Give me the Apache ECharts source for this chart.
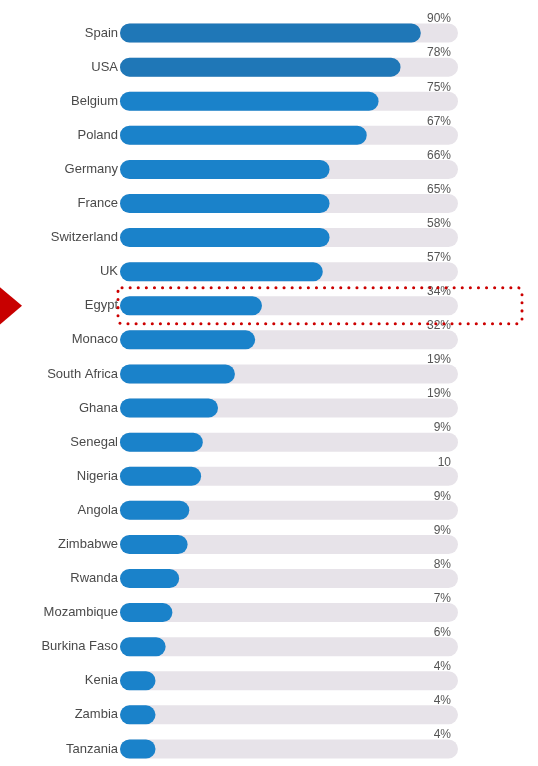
<!DOCTYPE html>
<html>
<head>
<meta charset="utf-8">
<script src="https://cdn.jsdelivr.net/npm/echarts@6/dist/echarts.min.js"></script>
<style>
  html, body { margin: 0; padding: 0; background: #fff; }
  #main { width: 538px; height: 766px; }
</style>
</head>
<body>
<div id="main"></div>
<script>
var countries = ['Spain', 'USA', 'Belgium', 'Poland', 'Germany', 'France', 'Switzerland', 'UK',
    'Egypt', 'Monaco', 'South Africa', 'Ghana', 'Senegal', 'Nigeria', 'Angola', 'Zimbabwe',
    'Rwanda', 'Mozambique', 'Burkina Faso', 'Kenia', 'Zambia', 'Tanzania'];
// bar lengths as share of the track
var barValues = [89, 83, 76.5, 73, 62, 62, 62, 60, 42, 40, 34, 29, 24.5, 24, 20.5, 20, 17.5, 15.5, 13.5, 10.5, 10.5, 10.5];
// texts printed at the right end of each row
var valueLabels = ['90%', '78%', '75%', '67%', '66%', '65%', '58%', '57%', '34%', '32%', '19%', '19%',
    '9%', '10', '9%', '9%', '8%', '7%', '6%', '4%', '4%', '4%'];
var trackValues = countries.map(function () { return 100; });
var highlight = 'Egypt';

var myChart = echarts.init(document.getElementById('main'));

var option = {
    animation: false,
    grid: { left: 120, right: 80, top: 16, height: 754 },
    xAxis: { type: 'value', min: 0, max: 100, show: false },
    yAxis: {
        type: 'category',
        data: countries,
        inverse: true,
        axisLine: { show: false },
        axisTick: { show: false },
        axisLabel: {
            color: '#4a4a4a',
            fontFamily: 'Liberation Sans',
            fontSize: 13,
            margin: 2
        }
    },
    series: [
        {
            type: 'bar',
            data: trackValues,
            barWidth: 19,
            silent: true,
            itemStyle: { color: '#e7e3e9', borderRadius: 10 },
            label: {
                show: true,
                position: 'insideRight',
                offset: [-2, -14],
                color: '#555',
                fontFamily: 'Liberation Sans',
                fontSize: 12,
                formatter: function (p) { return valueLabels[p.dataIndex]; }
            },
            z: 1
        },
        {
            type: 'bar',
            data: barValues.map(function (v, i) {
                return { value: v, itemStyle: { color: i < 2 ? '#1f77b7' : '#1a82ca' } };
            }),
            barWidth: 19,
            barGap: '-100%',
            itemStyle: { borderRadius: 10 },
            z: 2
        }
    ]
};

myChart.setOption(option);

// red marker and dotted frame around the highlighted row
var cy = myChart.convertToPixel({ yAxisIndex: 0 }, highlight);
myChart.setOption({
    graphic: [
        {
            type: 'polygon',
            shape: { points: [[-4, cy - 22], [22, cy], [-4, cy + 22]] },
            style: { fill: '#c80000' }
        },
        {
            type: 'rect',
            shape: { x: 118, y: cy - 18, width: 404, height: 36, r: 4 },
            style: {
                fill: 'none',
                stroke: '#cc0000',
                lineWidth: 3,
                lineDash: [0.1, 8],
                lineCap: 'round'
            },
            z: 100
        }
    ]
});
</script>
</body>
</html>
